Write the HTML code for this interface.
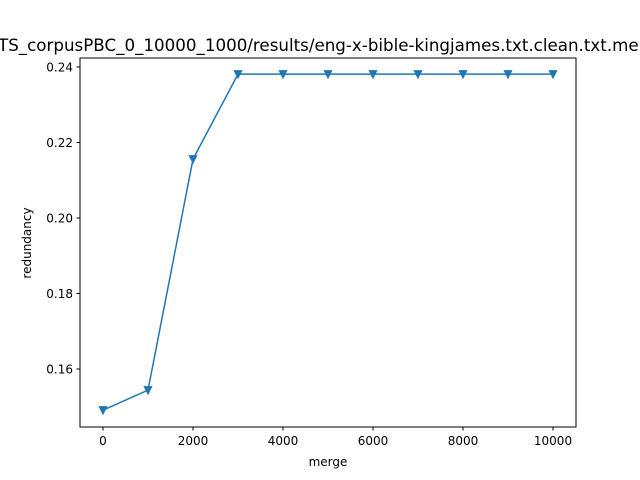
<!DOCTYPE html>
<html><head><meta charset="utf-8"><style>body{margin:0;background:#fff}svg{display:block;font-family:"DejaVu Sans","Liberation Sans",sans-serif}</style></head>
<body>
<svg id="chart" width="640" height="480" xmlns="http://www.w3.org/2000/svg">
<rect width="640" height="480" fill="#fff"/>
<text x="-2" y="51" font-size="16.7">TS_corpusPBC_0_10000_1000/results/eng-x-bible-kingjames.txt.clean.txt.me</text>
<g id="plot"></g>
<rect x="80" y="58" width="496" height="369" fill="none" stroke="#000" stroke-width="1"/>
<text x="328" y="466" font-size="12" text-anchor="middle">merge</text>
<text transform="translate(31,243) rotate(-90)" font-size="12" text-anchor="middle">redundancy</text>
</svg>
<script>
const merges=[0,1000,2000,3000,4000,5000,6000,7000,8000,9000,10000];
const redundancy=[0.1491,0.1544,0.2156,0.2381,0.2381,0.2381,0.2381,0.2381,0.2381,0.2381,0.2381];
const xTicks=[0,2000,4000,6000,8000,10000];
const yTicks=[0.16,0.18,0.20,0.22,0.24];
const yTickLabels=["0.16","0.18","0.20","0.22","0.24"];
const NS="http://www.w3.org/2000/svg";
const g=document.getElementById('plot');
const sx=v=>103+v*0.045;
const sy=v=>67+(0.24-v)*3775;
function mk(t,a){const e=document.createElementNS(NS,t);for(const k in a)e.setAttribute(k,a[k]);g.appendChild(e);return e;}
xTicks.forEach(v=>{
 const l=mk('line',{x1:sx(v),x2:sx(v),y1:427,y2:430.5,stroke:'#000'});
 
 
 const t=mk('text',{x:sx(v),y:445,'font-size':12,'text-anchor':'middle'});
 t.textContent=String(v);
 
 
});
yTicks.forEach((v,i)=>{
 const l=mk('line',{x1:76.5,x2:80,y1:sy(v),y2:sy(v),stroke:'#000'});
 
 
 const t=mk('text',{x:73,y:sy(v)+4.5,'font-size':12,'text-anchor':'end'});
 t.textContent=yTickLabels[i];
 
 
});
const pts=merges.map((m,i)=>sx(m)+','+sy(redundancy[i])).join(' ');
const pl=mk('polyline',{points:pts,fill:'none',stroke:'#1f77b4','stroke-width':1.5});


merges.forEach((m,i)=>{
 const x=sx(m),y=sy(redundancy[i]);
 const p=mk('polygon',{points:`${x-3.8},${y-3.5} ${x+3.8},${y-3.5} ${x},${y+4}`,fill:'#1f77b4',stroke:'#1f77b4'});
 
 
});
</script>
</body></html>
